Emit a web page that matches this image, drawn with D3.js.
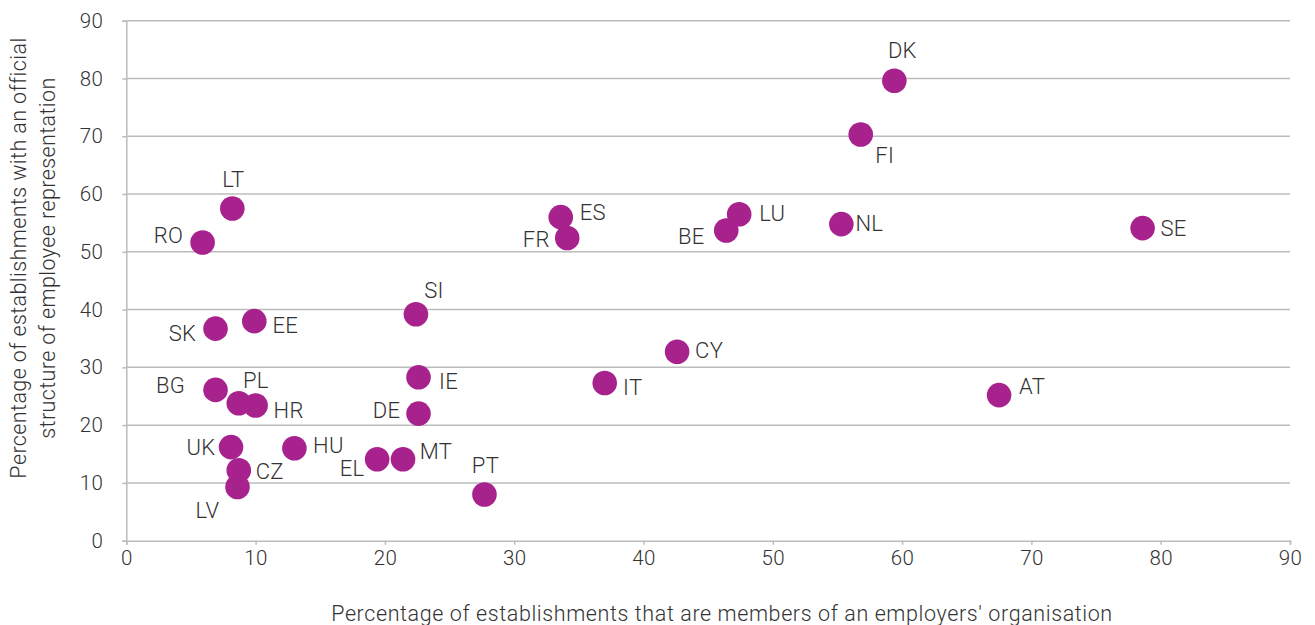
<!DOCTYPE html>
<html>
<head>
<meta charset="utf-8">
<script src="https://cdn.jsdelivr.net/npm/d3@7"></script>
<style>
  html, body { margin: 0; padding: 0; background: #ffffff; }
  svg text { font-family: Roboto, "Liberation Sans", sans-serif; font-weight: 300; fill: #333333; }
</style>
</head>
<body>
<svg id="chart" width="1315" height="625"></svg>
<script>
// Country codes and their two shares (%)
const countries = ["DK","FI","LT","RO","ES","FR","LU","BE","NL","SE","SI","SK","EE","CY","IE","IT","BG","PL","HR","AT","DE","UK","HU","CZ","LV","EL","MT","PT"];
// Share of establishments that are members of an employers' organisation
const employersOrg = [59.4,56.8,8.2,5.9,33.6,34.1,47.4,46.4,55.3,78.6,22.4,6.9,9.9,42.6,22.6,37.0,6.9,8.7,10.0,67.5,22.6,8.1,13.0,8.7,8.6,19.4,21.4,27.7];
// Share of establishments with an official structure of employee representation
const employeeRep = [79.6,70.3,57.5,51.6,56.0,52.4,56.5,53.7,54.8,54.1,39.2,36.7,38.0,32.7,28.3,27.3,26.1,23.8,23.4,25.2,22.0,16.2,16.0,12.2,9.3,14.1,14.1,8.0];
const xTicks = [0,10,20,30,40,50,60,70,80,90];
const yTicks = [0,10,20,30,40,50,60,70,80,90];

// Label offsets (px) from each marker centre, keeping labels clear of neighbours
const labelOffset = {
  DK:[8,-30], FI:[24,21], LT:[1,-29], RO:[-34,-7], ES:[32,-5], FR:[-31,2],
  LU:[33,-1], BE:[-35,6], NL:[28,-1], SE:[31,0], SI:[18,-24], SK:[-33,5],
  EE:[31,4], CY:[32,-1], IE:[30,4], IT:[28,5], BG:[-45,-4], PL:[17,-23],
  HR:[33,5], AT:[33,-9], DE:[-32,-3], UK:[-30,0], HU:[34,-3], CZ:[31,1],
  LV:[-30,24], EL:[-25,9], MT:[33,-8], PT:[1,-29]
};

const svg = d3.select("#chart");
const plotLeft = 126.3, plotRight = 1290, plotTop = 20.7, plotBottom = 540.7;

const x = d3.scaleLinear().domain([0, 90]).range([plotLeft, plotRight]);
const y = d3.scaleLinear().domain([0, 90]).range([plotBottom, plotTop]);

const gridColor = "#bcbcbc";
const fontStack = "Roboto, 'Liberation Sans', sans-serif";

// Horizontal gridlines
svg.append("g")
  .selectAll("line")
  .data(yTicks.filter(d => d > 0))
  .join("line")
  .attr("x1", plotLeft).attr("x2", plotRight)
  .attr("y1", d => y(d)).attr("y2", d => y(d))
  .attr("stroke", gridColor).attr("stroke-width", 1.5);

// Y axis
const yAxis = svg.append("g")
  .attr("transform", `translate(${plotLeft},0)`)
  .call(d3.axisLeft(y).tickValues(yTicks).tickSize(4).tickPadding(19));
yAxis.select(".domain").attr("stroke", gridColor).attr("stroke-width", 1.5);
yAxis.selectAll(".tick line").attr("stroke", gridColor).attr("stroke-width", 1.5);
yAxis.selectAll(".tick text").attr("font-size", 20.5).attr("fill", "#333333")
  .style("font-family", fontStack).style("font-weight", 300)
  .style("letter-spacing", "0.4px");

// X axis
const xAxis = svg.append("g")
  .attr("transform", `translate(0,${plotBottom})`)
  .call(d3.axisBottom(x).tickValues(xTicks).tickSize(4).tickPadding(6));
xAxis.select(".domain").attr("stroke", gridColor).attr("stroke-width", 1.5);
xAxis.selectAll(".tick line").attr("stroke", gridColor).attr("stroke-width", 1.5);
xAxis.selectAll(".tick text").attr("font-size", 20.5).attr("fill", "#333333")
  .style("font-family", fontStack).style("font-weight", 300)
  .style("letter-spacing", "0.4px");

// Axis titles
svg.append("text")
  .attr("x", 722).attr("y", 621)
  .attr("text-anchor", "middle").attr("font-size", 21.5)
  .style("letter-spacing", "0.6px")
  .text("Percentage of establishments that are members of an employers' organisation");

const yTitle = svg.append("text")
  .attr("transform", "translate(26,258) rotate(-90)")
  .attr("text-anchor", "middle").attr("font-size", 21.5)
  .style("letter-spacing", "0.4px");
yTitle.append("tspan").attr("x", 0).attr("dy", 0)
  .text("Percentage of establishments with an official");
yTitle.append("tspan").attr("x", 0).attr("dy", 29)
  .text("structure of employee representation");

// Points
const pts = countries.map((c, i) => ({ c, xv: employersOrg[i], yv: employeeRep[i] }));

svg.append("g")
  .selectAll("circle")
  .data(pts)
  .join("circle")
  .attr("cx", d => x(d.xv))
  .attr("cy", d => y(d.yv))
  .attr("r", 12.3)
  .attr("fill", "#a8228e");

// Country labels
svg.append("g")
  .selectAll("text")
  .data(pts)
  .join("text")
  .attr("x", d => x(d.xv) + labelOffset[d.c][0])
  .attr("y", d => y(d.yv) + labelOffset[d.c][1])
  .attr("text-anchor", "middle")
  .attr("dominant-baseline", "central")
  .attr("font-size", 22)
  .style("letter-spacing", "0.3px")
  .text(d => d.c);
</script>
</body>
</html>
